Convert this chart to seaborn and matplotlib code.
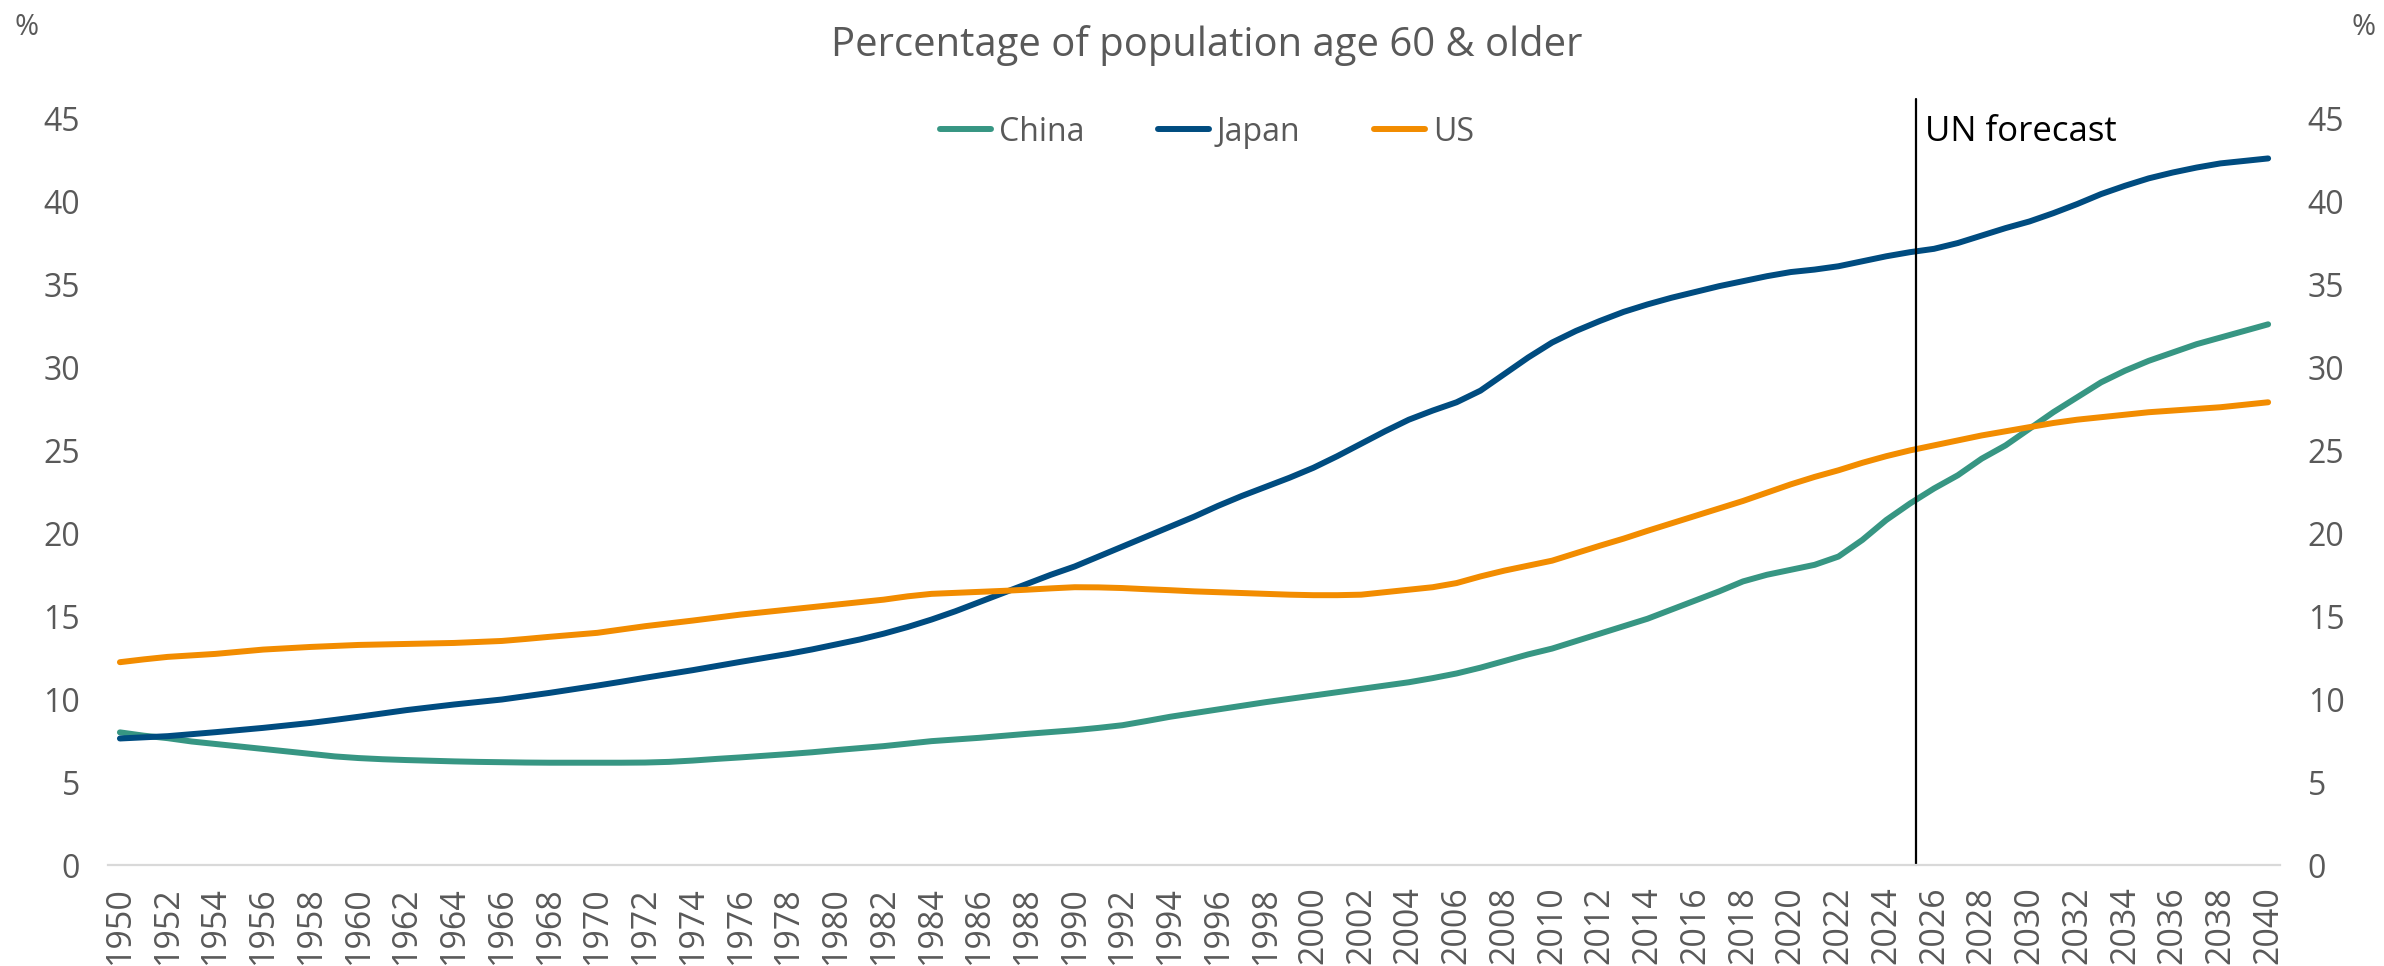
import numpy as np
import pandas as pd
import matplotlib
matplotlib.use("Agg")
import matplotlib.pyplot as plt
import matplotlib.transforms as mtransforms
import seaborn as sns

years = list(range(1950, 2041))

china = [8.0, 7.8, 7.65, 7.45, 7.3, 7.15, 7.0, 6.85, 6.7, 6.55,
         6.45, 6.38, 6.33, 6.29, 6.25, 6.22, 6.2, 6.18, 6.17, 6.17,
         6.17, 6.17, 6.18, 6.22, 6.3, 6.4, 6.49, 6.59, 6.69, 6.8,
         6.93, 7.05, 7.17, 7.32, 7.47, 7.57, 7.67, 7.79, 7.91, 8.02,
         8.13, 8.27, 8.43, 8.68, 8.94, 9.16, 9.38, 9.6, 9.82, 10.02,
         10.22, 10.42, 10.62, 10.82, 11.02, 11.27, 11.55, 11.9, 12.3, 12.7,
         13.05, 13.5, 13.95, 14.4, 14.85, 15.4, 15.95, 16.5, 17.1, 17.5,
         17.8, 18.1, 18.6, 19.6, 20.8, 21.8, 22.7, 23.5, 24.5, 25.3,
         26.3, 27.3, 28.2, 29.1, 29.8, 30.4, 30.9, 31.4, 31.8, 32.2,
         32.6]

japan = [7.63, 7.7, 7.77, 7.89, 8.01, 8.14, 8.27, 8.42, 8.57, 8.75,
         8.94, 9.14, 9.34, 9.51, 9.68, 9.83, 9.98, 10.18, 10.38, 10.6,
         10.82, 11.05, 11.29, 11.52, 11.75, 12.0, 12.25, 12.49, 12.73, 13.0,
         13.3, 13.6, 13.95, 14.35, 14.8, 15.3, 15.85, 16.4, 16.95, 17.5,
         18.0, 18.6, 19.2, 19.8, 20.4, 21.0, 21.65, 22.25, 22.8, 23.35,
         23.95, 24.65, 25.4, 26.15, 26.85, 27.4, 27.9, 28.6, 29.6, 30.6,
         31.5, 32.2, 32.8, 33.35, 33.8, 34.2, 34.55, 34.9, 35.2, 35.5,
         35.75, 35.9, 36.1, 36.4, 36.7, 36.95, 37.15, 37.5, 37.95, 38.4,
         38.8, 39.3, 39.85, 40.45, 40.95, 41.4, 41.75, 42.05, 42.3, 42.45,
         42.6]

us = [12.23, 12.4, 12.55, 12.64, 12.73, 12.86, 12.99, 13.07, 13.15, 13.21,
      13.27, 13.3, 13.33, 13.36, 13.39, 13.45, 13.51, 13.63, 13.76, 13.88,
      14.0, 14.2, 14.4, 14.57, 14.74, 14.92, 15.1, 15.25, 15.4, 15.55,
      15.7, 15.85, 16.0, 16.2, 16.35, 16.41, 16.47, 16.53, 16.6, 16.68,
      16.75, 16.74, 16.7, 16.63, 16.57, 16.5, 16.45, 16.4, 16.35, 16.3,
      16.27, 16.27, 16.3, 16.45, 16.6, 16.75, 17.0, 17.4, 17.75, 18.05,
      18.35, 18.8, 19.25, 19.68, 20.15, 20.6, 21.05, 21.5, 21.95, 22.45,
      22.95, 23.4, 23.8, 24.25, 24.65, 25.0, 25.3, 25.6, 25.9, 26.15,
      26.4, 26.65, 26.85, 27.0, 27.15, 27.3, 27.4, 27.5, 27.6, 27.75,
      27.9]

series_names = ["China", "Japan", "US"]
series_colors = ["#379683", "#004C80", "#F28C00"]
y_ticks = [0, 5, 10, 15, 20, 25, 30, 35, 40, 45]
x_ticks = list(range(1950, 2041, 2))
forecast_year = 2025
title_text = "Percentage of population age 60 & older"
forecast_label = "UN forecast"

df = pd.DataFrame({
    "year": years * 3,
    "value": china + japan + us,
    "country": ["China"] * len(years) + ["Japan"] * len(years) + ["US"] * len(years),
})

sns.set_theme(style="white")
plt.rcParams["font.family"] = ["Open Sans", "DejaVu Sans"]

GRAY = "#595959"
fig = plt.figure(figsize=(23.84, 9.66), dpi=100)
ax = fig.add_axes([0.0453, 0.1045, 0.9111, 0.7727])

sns.lineplot(data=df, x="year", y="value", hue="country", hue_order=series_names,
             palette=dict(zip(series_names, series_colors)), linewidth=4.3,
             ax=ax, legend=True)

ax.set_xlim(1949.5, 2040.5)
ax.set_ylim(0, 45)
ax.set_xlabel("")
ax.set_ylabel("")
for s in ["top", "left", "right"]:
    ax.spines[s].set_visible(False)
ax.spines["bottom"].set_color("#D9D9D9")
ax.spines["bottom"].set_linewidth(1.6)

ax.set_yticks(y_ticks)
ax.set_yticklabels([str(v) for v in y_ticks])
ax.tick_params(axis="y", length=0, pad=20, labelsize=23, labelcolor=GRAY,
               labelleft=True, labelright=True)
ax.set_xticks(x_ticks)
ax.set_xticklabels([str(v) for v in x_ticks], rotation=90)
ax.tick_params(axis="x", length=0, pad=15, labelsize=24.5, labelcolor=GRAY)

# forecast line (drawn between the 2025 and 2026 categories, as in the source)
ax.axvline(forecast_year + 0.25, ymin=0, ymax=1.026, color="black", linewidth=1.6, clip_on=False)
trans = mtransforms.blended_transform_factory(ax.transData, ax.transAxes)
ax.text(forecast_year + 0.62, 0.982, forecast_label, transform=trans,
        ha="left", va="center", fontsize=25, color="black")

# legend
handles, labels = ax.get_legend_handles_labels()
leg = ax.legend(handles, labels, loc="center", bbox_to_anchor=(0.506, 0.982), ncol=3,
                frameon=False, fontsize=23, handlelength=1.6, handletextpad=0.25,
                columnspacing=2.3, borderpad=0, borderaxespad=0)
for t in leg.get_texts():
    t.set_color(GRAY)

fig.text(0.506, 0.953, title_text, ha="center", va="center", fontsize=28.8, color=GRAY)
fig.text(0.0113, 0.972, "%", ha="center", va="center", fontsize=21, color=GRAY)
fig.text(0.9915, 0.972, "%", ha="center", va="center", fontsize=21, color=GRAY)

fig.savefig("out.png", dpi=100, facecolor="white")
